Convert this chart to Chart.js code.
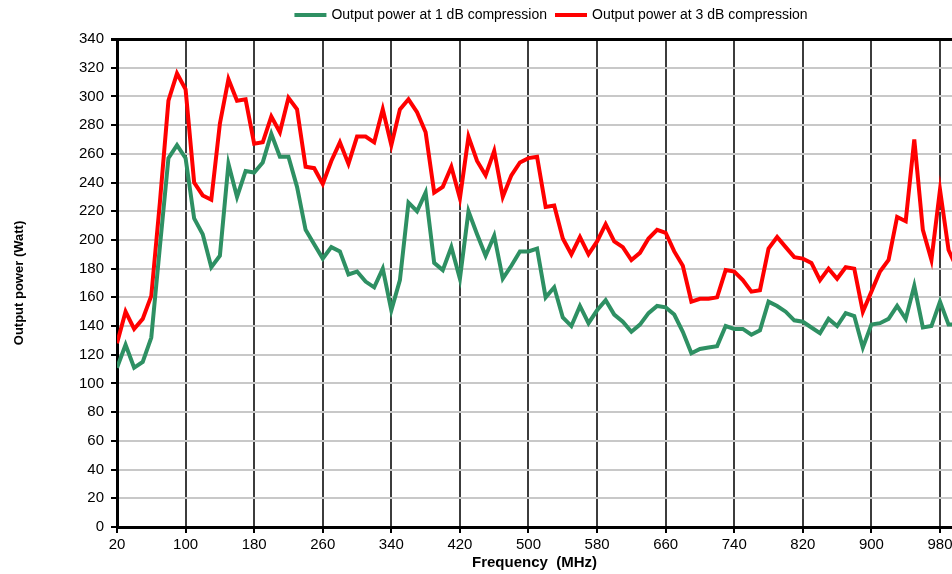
<!doctype html>
<html>
<head>
	<meta charset="utf-8">
	<title>Output power vs frequency</title>
	<script src="https://cdn.jsdelivr.net/npm/chart.js@4/dist/chart.umd.min.js"></script>
	<style>
		body {margin:0; background:#fff}
		canvas {display:block}
	</style>
</head>
<body>
	<canvas id="canvas" width="952" height="574"></canvas>
	<script>
		// frequency points (MHz)
		var freq = [20, 30, 40, 50, 60, 70, 80, 90, 100, 110, 120, 130, 140, 150, 160, 170, 180, 190, 200, 210,
			220, 230, 240, 250, 260, 270, 280, 290, 300, 310, 320, 330, 340, 350, 360, 370, 380, 390, 400, 410,
			420, 430, 440, 450, 460, 470, 480, 490, 500, 510, 520, 530, 540, 550, 560, 570, 580, 590, 600, 610,
			620, 630, 640, 650, 660, 670, 680, 690, 700, 710, 720, 730, 740, 750, 760, 770, 780, 790, 800, 810,
			820, 830, 840, 850, 860, 870, 880, 890, 900, 910, 920, 930, 940, 950, 960, 970, 980, 990, 1000];

		// output power at 1 dB compression (Watt)
		var p1dB = [111, 127, 111, 115, 132, 195, 257, 266, 257, 215, 204, 181, 189, 253, 230, 248, 247, 254, 274, 258,
			258, 237, 207, 197, 187, 195, 192, 176, 178, 171, 167, 180, 151, 172, 226, 220, 233, 184, 179, 195,
			173, 220, 204, 189, 203, 173, 182, 192, 192, 194, 160, 167, 146, 140, 154, 142, 151, 158, 148, 143,
			136, 141, 149, 154, 153, 148, 136, 121, 124, 125, 126, 140, 138, 138, 134, 137, 157, 154, 150, 144,
			143, 139, 135, 145, 140, 149, 147, 125, 141, 142, 145, 154, 145, 168, 139, 140, 157, 141, 141];

		// output power at 3 dB compression (Watt)
		var p3dB = [128, 150, 138, 145, 161, 226, 297, 316, 305, 240, 231, 228, 281, 312, 297, 298, 267, 268, 286, 275,
			299, 291, 251, 250, 239, 255, 268, 253, 272, 272, 268, 291, 266, 291, 298, 289, 275, 233, 237, 251,
			229, 272, 255, 245, 262, 230, 245, 254, 257, 258, 223, 224, 201, 190, 202, 190, 199, 211, 199, 195,
			186, 191, 201, 207, 205, 192, 182, 157, 159, 159, 160, 179, 178, 172, 164, 165, 194, 202, 195, 188,
			187, 184, 172, 180, 173, 181, 180, 150, 164, 178, 186, 216, 213, 270, 207, 186, 235, 193, 180];

		var xTicks = [20, 100, 180, 260, 340, 420, 500, 580, 660, 740, 820, 900, 980];
		var seriesNames = ['Output power at 1 dB compression', 'Output power at 3 dB compression'];

		function points(values) {
			return freq.map(function (f, i) { return {x: f, y: values[i]}; });
		}

		// move the legend so it sits over the middle of the (cut off) plot
		var legendShift = {
			id: 'legendShift',
			afterLayout: function (chart) {
				chart.legend.left += 76;
				chart.legend.right += 76;
				chart.legend.top -= 7;
				chart.legend.bottom -= 7;
			}
		};

		var ctx = document.getElementById('canvas').getContext('2d');
		var chart = new Chart(ctx, {
			type: 'line',
			data: {
				datasets: [{
					label: seriesNames[0],
					data: points(p1dB),
					borderColor: '#2e9063',
					backgroundColor: '#2e9063',
					borderWidth: 4,
					pointRadius: 0,
					tension: 0
				}, {
					label: seriesNames[1],
					data: points(p3dB),
					borderColor: '#ff0000',
					backgroundColor: '#ff0000',
					borderWidth: 4,
					pointRadius: 0,
					tension: 0
				}]
			},
			options: {
				responsive: false,
				animation: false,
				layout: {padding: {top: 5, left: 0, right: 0, bottom: 0}},
				plugins: {
					tooltip: {enabled: false},
					legend: {
						position: 'top',
						labels: {
							boxWidth: 28,
							boxHeight: 0.001,
							padding: 10,
							color: '#000',
							font: {family: 'Liberation Sans, Arial, sans-serif', size: 14}
						}
					}
				},
				scales: {
					x: {
						type: 'linear',
						min: 20,
						max: 994,
						afterFit: function (scale) {
							scale.height = 47;
							scale.paddingRight = 0; // plot runs to the right edge, like the cropped original
						},
						afterBuildTicks: function (scale) {
							scale.ticks = xTicks.map(function (v) { return {value: v}; });
						},
						ticks: {
							color: '#000',
							padding: 3,
							maxRotation: 0,
							autoSkip: false,
							font: {family: 'Liberation Sans, Arial, sans-serif', size: 15}
						},
						grid: {color: '#3c3c3c', lineWidth: 2, tickLength: 6, tickColor: '#000'},
						border: {color: '#000', width: 3},
						title: {
							display: true,
							text: 'Frequency  (MHz)',
							color: '#000',
							padding: {top: 0, bottom: 2},
							font: {family: 'Liberation Sans, Arial, sans-serif', size: 15, weight: 'bold'}
						}
					},
					y: {
						min: 0,
						max: 340,
						afterFit: function (scale) { scale.width = 117; },
						ticks: {
							stepSize: 20,
							color: '#000',
							padding: 7,
							font: {family: 'Liberation Sans, Arial, sans-serif', size: 15}
						},
						grid: {
							color: function (c) { return (c.tick && (c.tick.value === 340 || c.tick.value === 0)) ? '#000' : '#c8c8c8'; },
							lineWidth: function (c) { return (c.tick && c.tick.value === 340) ? 3 : 2; },
							tickLength: 6,
							tickColor: '#000'
						},
						border: {color: '#000', width: 3},
						title: {
							display: true,
							text: 'Output power (Watt)',
							color: '#000',
							padding: {top: 12, bottom: 0},
							font: {family: 'Liberation Sans, Arial, sans-serif', size: 13, weight: 'bold'}
						}
					}
				}
			},
			plugins: [legendShift]
		});
	</script>
</body>
</html>
